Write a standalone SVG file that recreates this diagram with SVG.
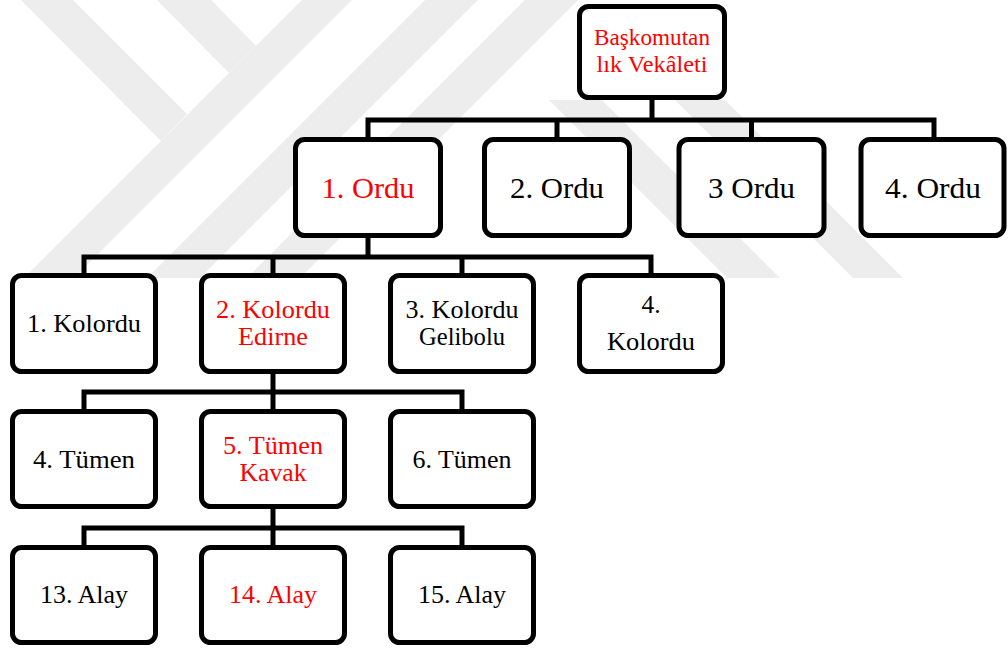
<svg xmlns="http://www.w3.org/2000/svg" width="1008" height="648" viewBox="0 0 1008 648">
<style>
.box{fill:#ffffff;stroke:#000000;stroke-width:5}
.wm{fill:#ededed}
text{font-family:'Liberation Serif','DejaVu Serif',serif;text-anchor:middle;fill:#000000}
.r{fill:#ff0000}
.f1{font-size:23px}
.f2{font-size:30px}
.f3{font-size:26px}
.conn{fill:none;stroke:#000000;stroke-width:5;stroke-linejoin:miter;stroke-linecap:butt}
</style>
<rect width="1008" height="648" fill="#ffffff"/>
<g id="watermark">
<polygon class="wm" points="21,0 73,0 187,114 161,141"/>
<polygon class="wm" points="157,0 211,0 256,46 229,73"/>
<polygon class="wm" points="302,0 352,0 74,278 24,278"/>
<polygon class="wm" points="425,0 478,0 200,278 147,278"/>
<polygon class="wm" points="525,0 578,0 300,278 247,278"/>
<polygon class="wm" points="549,100 602,100 780,278 727,278"/>
<polygon class="wm" points="675,100 725,100 903,278 853,278"/>
</g>
<g id="connectors">
<path class="conn" d="M652,98 V120"/>
<path class="conn" d="M368,139 V120 H934 V139"/>
<path class="conn" d="M557,120 V139"/>
<path class="conn" d="M751.5,120 V139"/>
<path class="conn" d="M368,236 V257"/>
<path class="conn" d="M84,275 V257 H651 V275"/>
<path class="conn" d="M273,257 V275"/>
<path class="conn" d="M462,257 V275"/>
<path class="conn" d="M273,372 V411"/>
<path class="conn" d="M84,411 V392 H462 V411"/>
<path class="conn" d="M273,507 V547"/>
<path class="conn" d="M84,547 V528 H462 V547"/>
</g>
<g id="n-baskomutanlik">
<rect class="box" x="579.5" y="6.5" width="145" height="91" rx="9"/>
<text class="r f1" x="652" y="45" textLength="116" lengthAdjust="spacingAndGlyphs">Başkomutan</text>
<text class="r f1" x="652" y="72" textLength="111" lengthAdjust="spacingAndGlyphs">lık Vekâleti</text>
</g>
<g id="n-1-ordu">
<rect class="box" x="295.5" y="139.5" width="145" height="96" rx="9"/>
<text class="r f2" x="368" y="198" textLength="93" lengthAdjust="spacingAndGlyphs">1. Ordu</text>
</g>
<g id="n-2-ordu">
<rect class="box" x="484.5" y="139.5" width="145" height="96" rx="9"/>
<text class="f2" x="557" y="198" textLength="94" lengthAdjust="spacingAndGlyphs">2. Ordu</text>
</g>
<g id="n-3-ordu">
<rect class="box" x="679" y="139.5" width="145" height="96" rx="9"/>
<text class="f2" x="751.5" y="198" textLength="87" lengthAdjust="spacingAndGlyphs">3 Ordu</text>
</g>
<g id="n-4-ordu">
<rect class="box" x="861" y="139.5" width="143" height="96" rx="9"/>
<text class="f2" x="933" y="198" textLength="96" lengthAdjust="spacingAndGlyphs">4. Ordu</text>
</g>
<g id="n-1-kolordu">
<rect class="box" x="12.5" y="275.5" width="143" height="96" rx="9"/>
<text class="f3" x="84" y="332" textLength="114" lengthAdjust="spacingAndGlyphs">1. Kolordu</text>
</g>
<g id="n-2-kolordu">
<rect class="box" x="201.5" y="275.5" width="143" height="96" rx="9"/>
<text class="r f3" x="273" y="318" textLength="114" lengthAdjust="spacingAndGlyphs">2. Kolordu</text>
<text class="r f3" x="273" y="345" textLength="70" lengthAdjust="spacingAndGlyphs">Edirne</text>
</g>
<g id="n-3-kolordu">
<rect class="box" x="390.5" y="275.5" width="143" height="96" rx="9"/>
<text class="f3" x="462" y="318" textLength="113" lengthAdjust="spacingAndGlyphs">3. Kolordu</text>
<text class="f3" x="462" y="345" textLength="86" lengthAdjust="spacingAndGlyphs">Gelibolu</text>
</g>
<g id="n-4-kolordu">
<rect class="box" x="579.5" y="275.5" width="143" height="96" rx="9"/>
<text class="f3" x="651" y="313" textLength="19" lengthAdjust="spacingAndGlyphs">4.</text>
<text class="f3" x="651" y="350" textLength="88" lengthAdjust="spacingAndGlyphs">Kolordu</text>
</g>
<g id="n-4-tumen">
<rect class="box" x="12.5" y="411.5" width="143" height="95" rx="9"/>
<text class="f3" x="84" y="468" textLength="102" lengthAdjust="spacingAndGlyphs">4. Tümen</text>
</g>
<g id="n-5-tumen">
<rect class="box" x="201.5" y="411.5" width="143" height="95" rx="9"/>
<text class="r f3" x="273" y="454" textLength="100" lengthAdjust="spacingAndGlyphs">5. Tümen</text>
<text class="r f3" x="273" y="481" textLength="67" lengthAdjust="spacingAndGlyphs">Kavak</text>
</g>
<g id="n-6-tumen">
<rect class="box" x="390.5" y="411.5" width="143" height="95" rx="9"/>
<text class="f3" x="462" y="468" textLength="99" lengthAdjust="spacingAndGlyphs">6. Tümen</text>
</g>
<g id="n-13-alay">
<rect class="box" x="12.5" y="547.5" width="143" height="95" rx="9"/>
<text class="f3" x="84" y="603" textLength="88" lengthAdjust="spacingAndGlyphs">13. Alay</text>
</g>
<g id="n-14-alay">
<rect class="box" x="201.5" y="547.5" width="143" height="95" rx="9"/>
<text class="r f3" x="273" y="603" textLength="88" lengthAdjust="spacingAndGlyphs">14. Alay</text>
</g>
<g id="n-15-alay">
<rect class="box" x="390.5" y="547.5" width="143" height="95" rx="9"/>
<text class="f3" x="462" y="603" textLength="88" lengthAdjust="spacingAndGlyphs">15. Alay</text>
</g>
</svg>
